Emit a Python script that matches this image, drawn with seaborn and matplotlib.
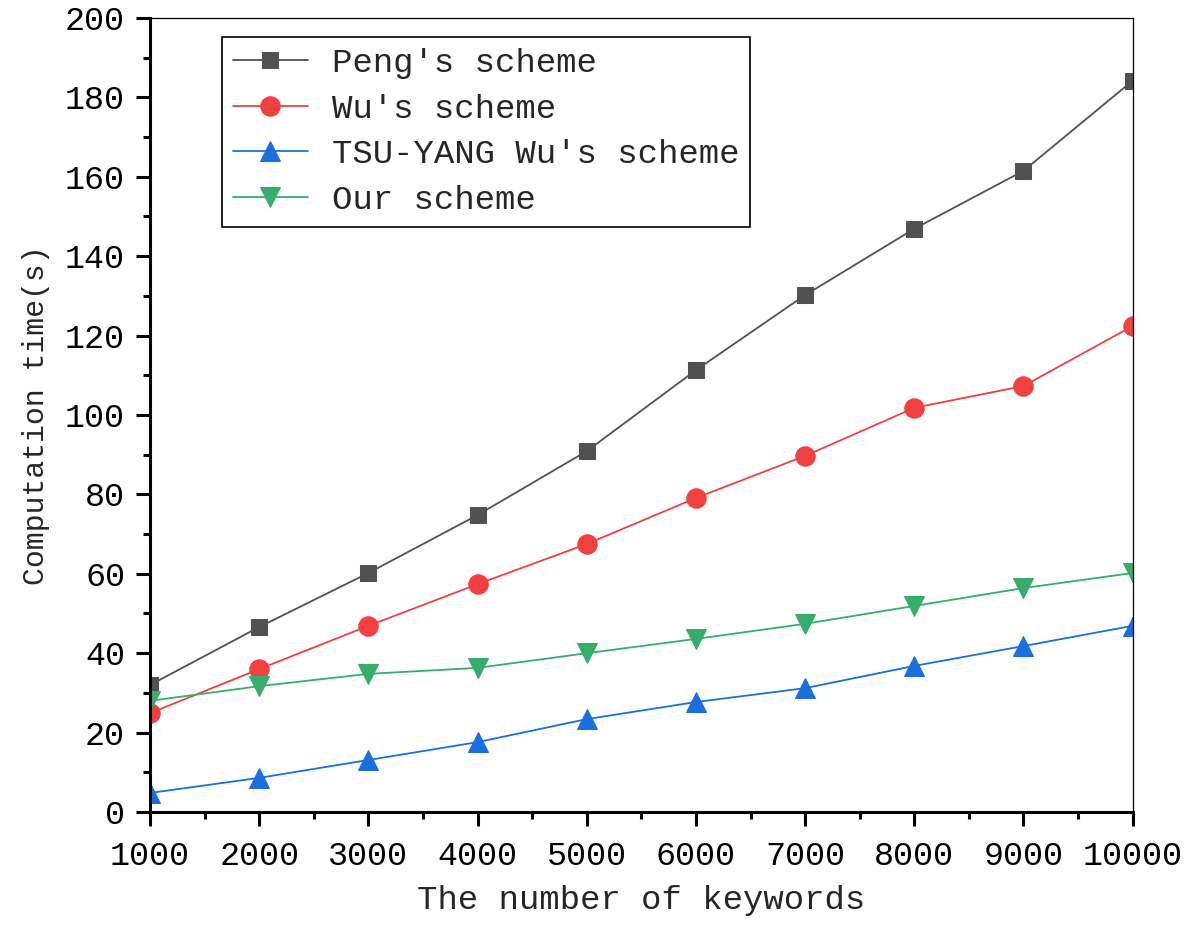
import matplotlib
matplotlib.use("Agg")
import matplotlib.pyplot as plt
import seaborn as sns
import pandas as pd
from matplotlib.ticker import MultipleLocator

keywords = [1000, 2000, 3000, 4000, 5000, 6000, 7000, 8000, 9000, 10000]
peng = [32.0, 46.6, 60.2, 74.8, 90.9, 111.3, 130.2, 146.9, 161.5, 184.2]
wu = [24.9, 36.0, 46.9, 57.4, 67.5, 79.1, 89.7, 101.8, 107.3, 122.4]
tsu_yang = [4.8, 8.6, 13.1, 17.6, 23.4, 27.7, 31.2, 36.8, 41.8, 46.9]
ours = [28.0, 31.7, 34.8, 36.3, 40.0, 43.6, 47.4, 51.9, 56.4, 60.2]
names = ["Peng's scheme", "Wu's scheme", "TSU-YANG Wu's scheme", "Our scheme"]
colors = ["#515151", "#F14040", "#1A6FDF", "#37AD6B"]
markers = ["s", "o", "^", "v"]
msizes = [12, 14, 15, 15]

sns.set_theme(style="ticks")
plt.rcParams['font.family'] = ['Liberation Mono', 'DejaVu Sans']

rows = []
for n, vals in zip(names, [peng, wu, tsu_yang, ours]):
    for k, v in zip(keywords, vals):
        rows.append({"keywords": k, "time": v, "scheme": n})
df = pd.DataFrame(rows)

fig = plt.figure(figsize=(11.91, 9.26), dpi=100)
ax = fig.add_axes([0.126, 0.1231, 0.825, 0.8575])

for n, c, m, s in zip(names, colors, markers, msizes):
    sub = df[df.scheme == n]
    sns.lineplot(data=sub, x="keywords", y="time", ax=ax, color=c, marker=m,
                 markersize=s, markeredgecolor=c, linewidth=1.3, label=n)

ax.set_xlim(1000, 10000)
ax.set_ylim(0, 200)
ax.xaxis.set_major_locator(MultipleLocator(1000))
ax.xaxis.set_minor_locator(MultipleLocator(500))
ax.yaxis.set_major_locator(MultipleLocator(20))
ax.yaxis.set_minor_locator(MultipleLocator(10))
ax.tick_params(which="major", direction="out", length=10, width=2.2, labelsize=24, colors="black", pad=8)
ax.tick_params(axis="x", which="major", pad=11)
ax.tick_params(which="minor", direction="out", length=5, width=2.2, colors="black")
ax.tick_params(top=False, right=False, which="both")

for side in ["left", "bottom"]:
    ax.spines[side].set_linewidth(2.2)
    ax.spines[side].set_color("black")
for side in ["top", "right"]:
    ax.spines[side].set_linewidth(0.9)
    ax.spines[side].set_color("black")
    ax.spines[side].set_visible(True)

ax.set_xlabel("The number of keywords", fontsize=24.5, labelpad=9)
ax.set_ylabel("Computation time(s)", fontsize=21.5, labelpad=11)

leg = ax.legend(loc="upper left", bbox_to_anchor=(0.073, 0.976), fontsize=24.5,
                frameon=True, fancybox=False, edgecolor="black", handlelength=2.2,
                labelspacing=0.43, borderpad=0.32, handletextpad=0.72, borderaxespad=0)
leg.get_frame().set_linewidth(1.2)
leg.get_frame().set_alpha(1)

fig.savefig("out.png", dpi=100)
